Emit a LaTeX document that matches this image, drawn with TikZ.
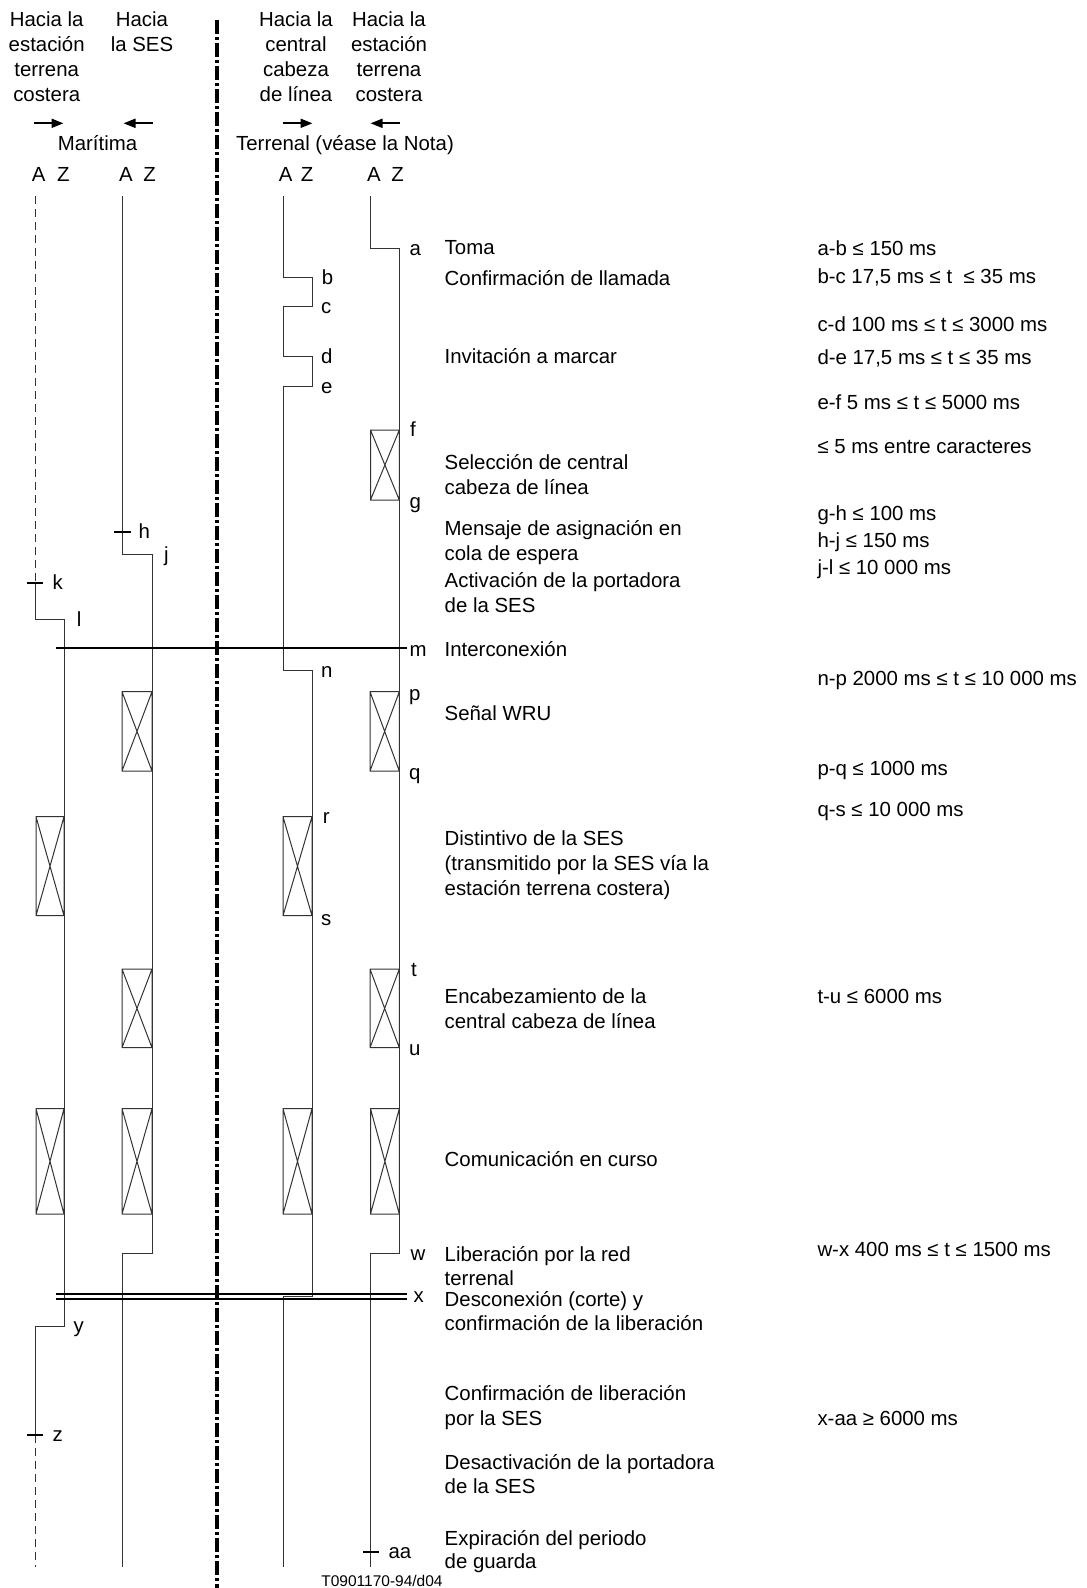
\documentclass[tikz,border=0pt]{standalone}
\usepackage{fontspec}
\setmainfont{Liberation Sans}
\usetikzlibrary{arrows.meta}
\newcommand\mainsz{\fontsize{20.4}{25}\selectfont}
\newcommand\tagsz{\fontsize{15.5}{18}\selectfont}
% box with a cross between x=#1 and x=#2, from y=#3 to y=#4
\newcommand\xbx[4]{\draw[sig] (#1,#3) rectangle (#2,#4) (#1,#3) -- (#2,#4) (#2,#3) -- (#1,#4);}
\begin{document}
\begin{tikzpicture}[x=1pt,y=-1pt,
  sig/.style={line width=1pt, draw=black!80},
  sigdash/.style={sig, dash pattern=on 8pt off 5pt},
  tickmark/.style={line width=1.6pt},
  bar/.style={line width=2pt},
  divider/.style={line width=4pt, dash pattern=on 14pt off 3pt on 3pt off 3pt},
  hdarrow/.style={line width=1.8pt, -{Triangle[length=12pt,width=9pt]}},
  lw/.style={font=\mainsz, inner sep=0pt, anchor=base west},
  lc/.style={font=\mainsz, inner sep=0pt, anchor=base},
]
\fill[white] (0,0) rectangle (1087,1588);
\useasboundingbox (0,0) rectangle (1087,1588);

% ---------- header ----------
\node[lc] (h1a) at (46.7,26.7) {Hacia la};
\node[lc] (h1b) at (46.7,51.7) {estación};
\node[lc] (h1c) at (46.7,76.7) {terrena};
\node[lc] (h1d) at (46.7,101.7) {costera};
\node[lc] (h2a) at (142,26.7) {Hacia};
\node[lc] (h2b) at (142,51.7) {la SES};
\node[lc] (h3a) at (296,26.7) {Hacia la};
\node[lc] (h3b) at (296,51.7) {central};
\node[lc] (h3c) at (296,76.7) {cabeza};
\node[lc] (h3d) at (296,101.7) {de línea};
\node[lc] (h4a) at (389,26.7) {Hacia la};
\node[lc] (h4b) at (389,51.7) {estación};
\node[lc] (h4c) at (389,76.7) {terrena};
\node[lc] (h4d) at (389,101.7) {costera};

\coordinate (ar1s) at (34,123.3);  \coordinate (ar1e) at (63.5,123.3);
\coordinate (ar2s) at (153,123.3); \coordinate (ar2e) at (123.5,123.3);
\coordinate (ar3s) at (282.7,123.3); \coordinate (ar3e) at (312.5,123.3);
\coordinate (ar4s) at (400,123.3); \coordinate (ar4e) at (370.5,123.3);
\draw[hdarrow] (ar1s) -- (ar1e);
\draw[hdarrow] (ar2s) -- (ar2e);
\draw[hdarrow] (ar3s) -- (ar3e);
\draw[hdarrow] (ar4s) -- (ar4e);

\node[lc] (mar) at (97.5,150.7) {Marítima};
\node[lc] (ter) at (345,150.7) {Terrenal (véase la Nota)};

\node[lc] (A1) at (38.7,181.7) {A};
\node[lc] (Z1) at (63.3,181.7) {Z};
\node[lc] (A2) at (126,181.7) {A};
\node[lc] (Z2) at (149.5,181.7) {Z};
\node[lc] (A3) at (285.8,181.7) {A};
\node[lc] (Z3) at (307,181.7) {Z};
\node[lc] (A4) at (374,181.7) {A};
\node[lc] (Z4) at (397.5,181.7) {Z};

% ---------- divider ----------
\draw[divider] (216.7,20) -- (216.7,1588);

% ---------- column 1 (maritime, to coast earth station) ----------
\draw[sigdash] (35,196) -- (35,582.7);
\draw[sig] (35,582.7) -- (35,619.3) -- (64,619.3) -- (64,1326.7) -- (35,1326.7) -- (35,1435);
\draw[sigdash] (35,1435) -- (35,1566.7);
\draw[tickmark] (27,582.7) -- (43,582.7);
\draw[tickmark] (27,1435) -- (43,1435);
\xbx{36}{64}{816.7}{915.7}
\xbx{36}{64}{1108.7}{1214}

% ---------- column 2 (maritime, to SES) ----------
\draw[sig] (122,196) -- (122,554) -- (152,554) -- (152,1253.3) -- (122,1253.3) -- (122,1566.7);
\draw[tickmark] (114,531.7) -- (131,531.7);
\xbx{122}{152}{691.7}{771}
\xbx{122}{152}{969}{1047.7}
\xbx{122}{152}{1108.7}{1214}

% ---------- column 3 (terrestrial, to exchange) ----------
\draw[sig] (283,196) -- (283,277.3) -- (312,277.3) -- (312,306.3) -- (283,306.3)
  -- (283,356.7) -- (312,356.7) -- (312,386.3) -- (283,386.3) -- (283,670.7)
  -- (312,670.7) -- (312,1296.5) -- (283,1296.5) -- (283,1566.7);
\xbx{283}{312}{816.7}{915.7}
\xbx{283}{312}{1108.7}{1214}

% ---------- column 4 (terrestrial, to coast earth station) ----------
\draw[sig] (370,196) -- (370,248.3) -- (399.3,248.3) -- (399.3,1253.3) -- (370,1253.3) -- (370,1566.7);
\draw[tickmark] (363,1552) -- (379,1552);
\xbx{370.5}{399.3}{430}{500}
\xbx{370}{399.3}{691.7}{771}
\xbx{370}{399.3}{969}{1047.7}
\xbx{370.5}{399.3}{1108.7}{1214}

% ---------- interconnection and release lines ----------
\draw[bar] (56,647.7) -- (407,647.7);
\draw[bar] (56,1293.7) -- (407,1293.7);
\draw[bar] (56,1298.5) -- (407,1298.5);

% ---------- point letters ----------
\node[lw] (la) at (409.3,255.5) {a};
\node[lw] (lb) at (321.7,284.5) {b};
\node[lw] (lc) at (321,313.5) {c};
\node[lw] (ld) at (321,363.7) {d};
\node[lw] (le) at (321,393.5) {e};
\node[lw] (lf) at (410,436.7) {f};
\node[lw] (lg) at (409.3,508) {g};
\node[lw] (lh) at (138.3,538.3) {h};
\node[lw] (lj) at (164,561.5) {j};
\node[lw] (lk) at (52.3,589.5) {k};
\node[lw] (ll) at (76.7,626) {l};
\node[lw] (lm) at (409.3,656) {m};
\node[lw] (ln) at (321,677) {n};
\node[lw] (lp) at (409,700) {p};
\node[lw] (lq) at (409,779) {q};
\node[lw] (lr) at (322.7,823) {r};
\node[lw] (ls) at (321,925) {s};
\node[lw] (lt) at (411,976) {t};
\node[lw] (lu) at (409,1055.3) {u};
\node[lw] (lww) at (410.5,1260) {w};
\node[lw] (lx) at (413.3,1302.7) {x};
\node[lw] (ly) at (73.3,1332) {y};
\node[lw] (lz) at (52.3,1441.7) {z};
\node[lw] (laa) at (388.3,1558.3) {aa};

% ---------- event descriptions ----------
\node[lw] (d01) at (444.5,254) {Toma};
\node[lw] (d02) at (444.5,285) {Confirmación de llamada};
\node[lw] (d03) at (444.5,363.3) {Invitación a marcar};
\node[lw] (d04) at (444.5,469.3) {Selección de central};
\node[lw] (d05) at (444.5,494.3) {cabeza de línea};
\node[lw] (d06) at (444.5,535) {Mensaje de asignación en};
\node[lw] (d07) at (444.5,560) {cola de espera};
\node[lw] (d08) at (444.5,587.3) {Activación de la portadora};
\node[lw] (d09) at (444.5,612.3) {de la SES};
\node[lw] (d10) at (444.5,656) {Interconexión};
\node[lw] (d11) at (444.5,720) {Señal WRU};
\node[lw] (d12) at (444.5,845) {Distintivo de la SES};
\node[lw] (d13) at (444.5,870) {(transmitido por la SES vía la};
\node[lw] (d14) at (444.5,895) {estación terrena costera)};
\node[lw] (d15) at (444.5,1003.3) {Encabezamiento de la};
\node[lw] (d16) at (444.5,1028.3) {central cabeza de línea};
\node[lw] (d17) at (444.5,1166) {Comunicación en curso};
\node[lw] (d18) at (444.5,1261.7) {Liberación por la red};
\node[lw] (d19) at (444.5,1285.7) {terrenal};
\node[lw] (d20) at (444.5,1306) {Desconexión (corte) y};
\node[lw] (d21) at (444.5,1330.7) {confirmación de la liberación};
\node[lw] (d22) at (444.5,1400) {Confirmación de liberación};
\node[lw] (d23) at (444.5,1425) {por la SES};
\node[lw] (d24) at (444.5,1469.3) {Desactivación de la portadora};
\node[lw] (d25) at (444.5,1493.3) {de la SES};
\node[lw] (d26) at (444.5,1545) {Expiración del periodo};
\node[lw] (d27) at (444.5,1568.3) {de guarda};

% ---------- timing requirements ----------
\node[lw] (t01) at (817.3,255) {a-b ≤ 150 ms};
\node[lw] (t02) at (817.3,283.3) {b-c 17,5 ms ≤ t~ ≤ 35 ms};
\node[lw] (t03) at (817.3,331) {c-d 100 ms ≤ t ≤ 3000 ms};
\node[lw] (t04) at (817.3,364) {d-e 17,5 ms ≤ t ≤ 35 ms};
\node[lw] (t05) at (817.3,409) {e-f 5 ms ≤ t ≤ 5000 ms};
\node[lw] (t06) at (817.3,453.3) {≤ 5 ms entre caracteres};
\node[lw] (t07) at (817.3,520) {g-h ≤ 100 ms};
\node[lw] (t08) at (817.3,547.3) {h-j ≤ 150 ms};
\node[lw] (t09) at (817.3,574.3) {j-l ≤ 10 000 ms};
\node[lw] (t10) at (817.3,685) {n-p 2000 ms ≤ t ≤ 10 000 ms};
\node[lw] (t11) at (817.3,775) {p-q ≤ 1000 ms};
\node[lw] (t12) at (817.3,816.7) {q-s ≤ 10 000 ms};
\node[lw] (t13) at (817.3,1003.3) {t-u ≤ 6000 ms};
\node[lw] (t14) at (817.3,1256.7) {w-x 400 ms ≤ t ≤ 1500 ms};
\node[lw] (t15) at (817.3,1425) {x-aa ≥ 6000 ms};

% ---------- figure tag ----------
\node[font=\tagsz, inner sep=0pt, anchor=base] (tag) at (382,1586) {T0901170-94/d04};
\end{tikzpicture}
\end{document}
